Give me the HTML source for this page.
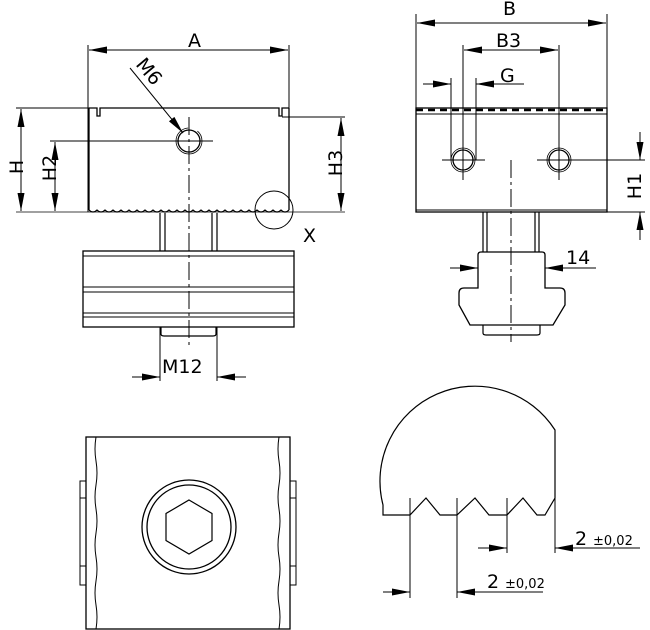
<!DOCTYPE html>
<html><head><style>body{margin:0;background:#fff}svg{display:block}text{font-family:"DejaVu Sans","Liberation Sans",sans-serif;fill:#000}</style></head><body>
<svg width="650" height="630" viewBox="0 0 650 630" xmlns="http://www.w3.org/2000/svg">
<defs><marker id="a" viewBox="0 0 10 4" refX="10" refY="2" markerWidth="18" markerHeight="7" markerUnits="userSpaceOnUse" orient="auto-start-reverse" preserveAspectRatio="none"><path d="M0,0L10,2L0,4z"/></marker></defs>
<g stroke="#000" fill="none" stroke-width="1">
<line x1="88" y1="45" x2="88" y2="212"/><line x1="289" y1="45" x2="289" y2="210"/>
<line x1="89" y1="50" x2="288" y2="50" marker-start="url(#a)" marker-end="url(#a)"/>
<path d="M89,108H97V116H100V108H279V116H282V108H289" stroke-width="1.3"/>
<line x1="282" y1="117" x2="345" y2="117"/>
<path d="M89,108V210 M289,108V210" stroke-width="1.3"/>
<path d="M89,210 q4,4 8,0 q4,4 8,0 q4,4 8,0 q4,4 8,0 q4,4 8,0 q4,4 8,0 q4,4 8,0 q4,4 8,0 q4,4 8,0 q4,4 8,0 q4,4 8,0 q4,4 8,0 q4,4 8,0 q4,4 8,0 q4,4 8,0 q4,4 8,0 q4,4 8,0 q4,4 8,0 q4,4 8,0 q4,4 8,0 q4,4 8,0 q4,4 8,0 q4,4 8,0 q4,4 8,0 q4,4 8,0" stroke-width="1.2"/>
<line x1="16" y1="212" x2="345" y2="212" stroke-width="0.8"/>
<line x1="16" y1="108" x2="89" y2="108"/>
<line x1="21" y1="109" x2="21" y2="211" marker-start="url(#a)" marker-end="url(#a)"/>
<line x1="50" y1="141" x2="213" y2="141"/>
<line x1="55" y1="142" x2="55" y2="211" marker-start="url(#a)" marker-end="url(#a)"/>
<line x1="341" y1="118" x2="341" y2="211" marker-start="url(#a)" marker-end="url(#a)"/>
<circle cx="189" cy="141" r="11" stroke-width="1.3"/><circle cx="189" cy="141" r="13" stroke-width="0.8" stroke-dasharray="60 10"/>
<line x1="130" y1="68" x2="183" y2="133" marker-end="url(#a)"/>
<line x1="189" y1="117" x2="189" y2="345" stroke-dasharray="18 4 3 4"/>
<circle cx="274" cy="210" r="19"/>
<path d="M160,213V251M165,213V251M212,213V251M217,213V251" stroke-width="1.2"/>
<rect x="83" y="251" width="211" height="76" stroke-width="1.3"/>
<path d="M83,256H294M83,287H294M83,292H294M83,313H294M83,317H294"/>
<path d="M161,327V334Q161,336 164,336H213Q216,336 216,334V327" stroke-width="1.2"/>
<line x1="160" y1="327" x2="160" y2="381"/><line x1="217" y1="327" x2="217" y2="381"/>
<line x1="132" y1="377" x2="160" y2="377" marker-end="url(#a)"/><line x1="246" y1="377" x2="217" y2="377" marker-end="url(#a)"/>
<line x1="416" y1="14" x2="416" y2="212"/><line x1="607" y1="14" x2="607" y2="108"/>
<line x1="417" y1="23" x2="606" y2="23" marker-start="url(#a)" marker-end="url(#a)"/>
<line x1="463" y1="45" x2="463" y2="180"/><line x1="559" y1="45" x2="559" y2="180"/>
<line x1="464" y1="50" x2="558" y2="50" marker-start="url(#a)" marker-end="url(#a)"/>
<line x1="451" y1="78" x2="451" y2="160"/><line x1="476" y1="78" x2="476" y2="160"/>
<line x1="423" y1="84" x2="451" y2="84" marker-end="url(#a)"/><line x1="524" y1="84" x2="476" y2="84" marker-end="url(#a)"/>
<rect x="416" y="108" width="191" height="104" stroke-width="1.3"/>
<line x1="416" y1="114" x2="607" y2="114"/><line x1="416" y1="110" x2="607" y2="110" stroke-dasharray="7 5" stroke-width="2.5"/>
<line x1="416" y1="210" x2="607" y2="210"/>
<circle cx="463" cy="160" r="10" stroke-width="1.3"/><circle cx="463" cy="160" r="12" stroke-width="0.8"/>
<circle cx="559" cy="160" r="10" stroke-width="1.3"/><circle cx="559" cy="160" r="12" stroke-width="0.8"/>
<line x1="442" y1="160" x2="485" y2="160"/><line x1="537" y1="160" x2="645" y2="160"/>
<line x1="607" y1="212" x2="645" y2="212"/>
<line x1="640" y1="132" x2="640" y2="160" marker-end="url(#a)"/><line x1="640" y1="240" x2="640" y2="212" marker-end="url(#a)"/>
<line x1="511" y1="160" x2="511" y2="342" stroke-dasharray="18 4 3 4"/>
<path d="M483,212V252M487,212V252M535,212V252M539,212V252" stroke-width="1.2"/>
<path d="M483,252H542Q545,252 545,255V288H560Q565,288 565,293V305L553,325H470L459,305V293Q459,288 464,288H478V255Q478,252 481,252Z" stroke-width="1.3"/>
<path d="M483,325V333Q483,335 486,335H537Q540,335 540,333V325" stroke-width="1.2"/>
<line x1="450" y1="268" x2="478" y2="268" marker-end="url(#a)"/><line x1="596" y1="268" x2="545" y2="268" marker-end="url(#a)"/>
<rect x="86" y="437" width="204" height="192" stroke-width="1.3"/>
<path d="M96,437q-2,12 0,24q2,12 0,24q-2,12 0,24q2,12 0,24q-2,12 0,24q2,12 0,24q-2,12 0,24q2,12 0,24"/>
<path d="M279,437q-2,12 0,24q2,12 0,24q-2,12 0,24q2,12 0,24q-2,12 0,24q2,12 0,24q-2,12 0,24q2,12 0,24"/>
<path d="M86,481H80V585H86M80,498H86M80,566H86M290,481H296V585H290M290,498H296M290,566H296"/>
<circle cx="189" cy="527" r="47" stroke-width="1.3"/><circle cx="189" cy="527" r="42" stroke-width="1.3"/>
<polygon points="189,500 212,513.5 212,540.5 189,554 166,540.5 166,513.5" stroke-width="1.2"/>
<path d="M555,430L555,498L545,515H537L523,498L507,515H489L475,498L457,515H440L426,498L410,515H392L383,515V505A95,95 0 0 1 555,430Z" stroke-width="1.2"/>
<path d="M410,498V598M457,498V598M507,498V553M555,498V553"/>
<line x1="478" y1="548" x2="507" y2="548" marker-end="url(#a)"/><line x1="640" y1="548" x2="555" y2="548" marker-end="url(#a)"/>
<line x1="383" y1="592" x2="410" y2="592" marker-end="url(#a)"/><line x1="543" y1="592" x2="457" y2="592" marker-end="url(#a)"/>
</g>
<g font-size="19">
<text x="188" y="47">A</text>
<text x="133" y="75" transform="rotate(50 145 72)">M6</text>
<text x="15" y="175" transform="rotate(-90 15 167)" text-anchor="middle">H</text>
<text x="49" y="175" transform="rotate(-90 49 168)" text-anchor="middle">H2</text>
<text x="335" y="170" transform="rotate(-90 335 163)" text-anchor="middle">H3</text>
<text x="303" y="242">X</text>
<text x="162" y="373">M12</text>
<text x="503" y="15">B</text>
<text x="496" y="47">B3</text>
<text x="500" y="82">G</text>
<text x="634" y="193" transform="rotate(-90 634 186)" text-anchor="middle">H1</text>
<text x="566" y="264">14</text>
<text x="575" y="545">2</text><text x="593" y="545" font-size="13">±0,02</text>
<text x="487" y="588">2</text><text x="505" y="588" font-size="13">±0,02</text>
</g>
</svg>
</body></html>
